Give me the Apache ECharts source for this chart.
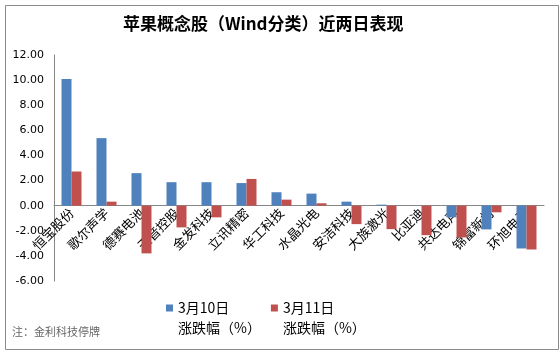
<!DOCTYPE html>
<html>
<head>
<meta charset="utf-8">
<script src="https://cdn.jsdelivr.net/npm/echarts@6/dist/echarts.min.js"></script>
<style>
  html, body { margin: 0; padding: 0; background: #fff; }
  #chart { width: 560px; height: 351px; }
</style>
</head>
<body>
<div id="chart"></div>
<script>
// 股票名称
const stocks = ['恒宝股份', '歌尔声学', '德赛电池', '天音控股', '金发科技', '立讯精密', '华工科技',
  '水晶光电', '安洁科技', '大族激光', '比亚迪', '共达电声', '锦富新材', '环旭电子'];
// 3月10日 涨跌幅
const day10 = [10.08, 5.38, 2.59, 1.87, 1.87, 1.80, 1.07, 0.96, 0.32, 0.08, 0.00, -0.93, -1.89, -3.41];
// 3月11日 涨跌幅
const day11 = [2.72, 0.32, -3.80, -1.73, -0.93, 2.13, 0.48, 0.19, -1.47, -1.87, -2.35, -2.53, -0.53, -3.49];
const seriesNames = ['3月10日\n涨跌幅（%）', '3月11日\n涨跌幅（%）'];

const yMin = -6, yMax = 12;
const gridTop = 55, gridBottom = 70;
const plotH = 351 - gridTop - gridBottom;
// x轴放在0刻度处
const zeroOffset = -plotH * (0 - yMin) / (yMax - yMin);

const chart = echarts.init(document.getElementById('chart'));

const option = {
  animation: false,
  title: {
    text: '苹果概念股（Wind分类）近两日表现',
    left: 118,
    top: 10,
    textStyle: { fontSize: 17, fontWeight: 'bold', color: '#000', fontFamily: 'Noto Sans CJK SC' }
  },
  legend: {
    data: seriesNames,
    left: 166,
    top: 278,
    padding: 0,
    itemWidth: 7,
    itemHeight: 7,
    itemGap: 10,
    icon: 'rect',
    // 空行让图标对齐第一行文字
    formatter: name => '\n' + name,
    textStyle: { fontSize: 14, color: '#000', fontFamily: 'Noto Sans CJK SC', lineHeight: 20 }
  },
  grid: { left: 54, right: 16, top: gridTop, bottom: gridBottom },
  xAxis: {
    type: 'category',
    data: stocks,
    offset: zeroOffset,
    axisLine: { onZero: false, lineStyle: { color: '#868686' } },
    axisTick: { show: false },
    axisLabel: {
      interval: 0,
      rotate: 45,
      margin: 5,
      fontSize: 13,
      color: '#000',
      fontFamily: 'Noto Sans CJK SC'
    }
  },
  yAxis: {
    type: 'value',
    min: yMin,
    max: yMax,
    interval: 2,
    axisLine: { show: true, lineStyle: { color: '#868686' } },
    axisTick: { show: false },
    splitLine: { show: false },
    axisLabel: {
      margin: 10,
      fontSize: 11,
      color: '#000',
      fontFamily: 'DejaVu Sans',
      formatter: v => v.toFixed(2)
    }
  },
  series: [
    { name: seriesNames[0], type: 'bar', data: day10, barWidth: 10, barGap: '0%', itemStyle: { color: '#4F81BD' } },
    { name: seriesNames[1], type: 'bar', data: day11, barWidth: 10, itemStyle: { color: '#C0504D' } }
  ],
  graphic: [
    { type: 'rect', left: 3, top: 3, shape: { width: 553, height: 344 }, style: { fill: 'none', stroke: '#8c8c8c', lineWidth: 1 }, silent: true },
    { type: 'text', left: 12, top: 326, style: { text: '注：金利科技停牌', fontSize: 11, fill: '#666', fontFamily: 'Noto Sans CJK SC' } }
  ]
};

chart.setOption(option);
</script>
</body>
</html>
